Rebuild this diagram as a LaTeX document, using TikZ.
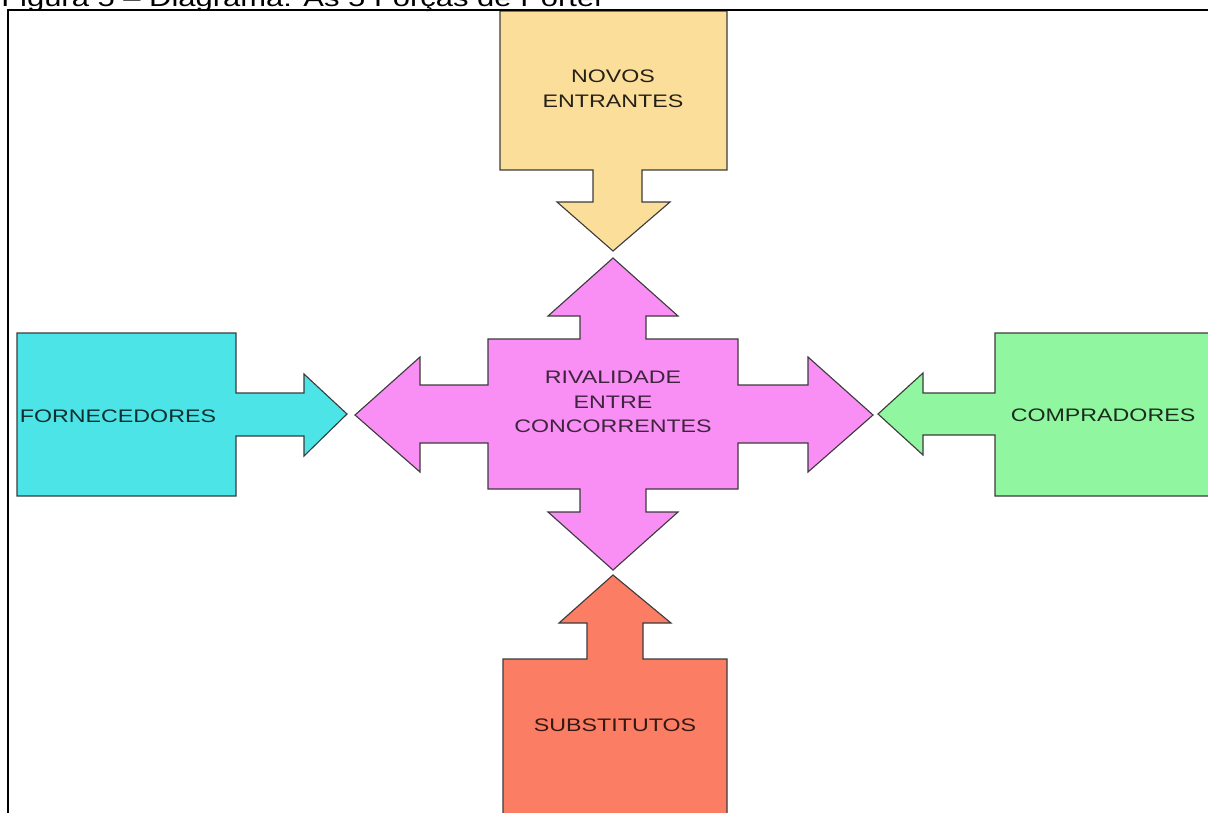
\documentclass[tikz,border=0pt]{standalone}
\usepackage{fontspec}
\setmainfont{Liberation Sans}
\usepackage{graphicx}
% labels are set a little wider than the plain font
\newcommand{\widetxt}[1]{\scalebox{1.28}[1]{#1}}
\definecolor{entrantfill}{HTML}{FBDE9A}
\definecolor{rivalfill}{HTML}{F98FF5}
\definecolor{supplierfill}{HTML}{4DE4E8}
\definecolor{buyerfill}{HTML}{90F6A0}
\definecolor{substfill}{HTML}{FA7D64}
\definecolor{edgegray}{HTML}{3C3C3C}
\tikzset{
  forceshape/.style={draw=edgegray, line width=0.8pt, line join=miter},
  forcelabel/.style={inner sep=0pt, align=center,
    font=\fontsize{12.9}{17.5}\selectfont},
}
\begin{document}
\begin{tikzpicture}[x=0.025cm,y=-0.025cm]
\useasboundingbox (0,0) rectangle (1208,812);
\clip (0,0) rectangle (1208,812);

% caption line, partly cut by the top edge
\node[anchor=base west, inner sep=0pt, font=\fontsize{17.2}{19}\selectfont] (caption) at (1,6)
  {\widetxt{Figura 5 – Diagrama: As 5 Forças de Porter}};

% new entrants, pointing down
\filldraw[forceshape, fill=entrantfill]
  (500,11) -- (727,11) -- (727,170) -- (642,170) -- (642,202) -- (670,202)
  -- (613,251) -- (557,202) -- (593,202) -- (593,170) -- (500,170) -- cycle;
\node[forcelabel, text=black!85!entrantfill] (entrants) at (613,89)
  {\widetxt{NOVOS}\\\widetxt{ENTRANTES}};

% suppliers, pointing right
\filldraw[forceshape, fill=supplierfill]
  (17,333) -- (236,333) -- (236,393) -- (304,393) -- (304,374) -- (347,414)
  -- (304,456) -- (304,436) -- (236,436) -- (236,496) -- (17,496) -- cycle;
\node[forcelabel, text=black!80!supplierfill] (suppliers) at (118,416)
  {\widetxt{FORNECEDORES}};

% buyers, pointing left
\filldraw[forceshape, fill=buyerfill]
  (1215,333) -- (995,333) -- (995,393) -- (923,393) -- (923,373) -- (878,414)
  -- (923,455) -- (923,435) -- (995,435) -- (995,496) -- (1215,496) -- cycle;
\node[forcelabel, text=black!82!buyerfill] (buyers) at (1103,415)
  {\widetxt{COMPRADORES}};

% substitutes, pointing up
\filldraw[forceshape, fill=substfill]
  (613,575) -- (671,623) -- (643,623) -- (643,659) -- (727,659) -- (727,820)
  -- (503,820) -- (503,659) -- (587,659) -- (587,623) -- (559,623) -- cycle;
\node[forcelabel, text=black!80!substfill] (substitutes) at (615,725)
  {\widetxt{SUBSTITUTOS}};

% rivalry, four-way arrow in the middle
\filldraw[forceshape, fill=rivalfill]
  (613,258) -- (678,316) -- (646,316) -- (646,339) -- (738,339) -- (738,385)
  -- (808,385) -- (808,357) -- (873,415) -- (808,472) -- (808,443) -- (738,443)
  -- (738,489) -- (646,489) -- (646,512) -- (678,512) -- (613,570) -- (548,512)
  -- (580,512) -- (580,489) -- (488,489) -- (488,443) -- (420,443) -- (420,472)
  -- (355,415) -- (420,357) -- (420,385) -- (488,385) -- (488,339) -- (580,339)
  -- (580,316) -- (548,316) -- cycle;
\node[forcelabel, text=black!75!rivalfill] (rivalry) at (613,402)
  {\widetxt{RIVALIDADE}\\\widetxt{ENTRE}\\\widetxt{CONCORRENTES}};

% frame
\draw[line width=1.5pt] (8,815) -- (8,10) -- (1212,10);
\end{tikzpicture}
\end{document}
